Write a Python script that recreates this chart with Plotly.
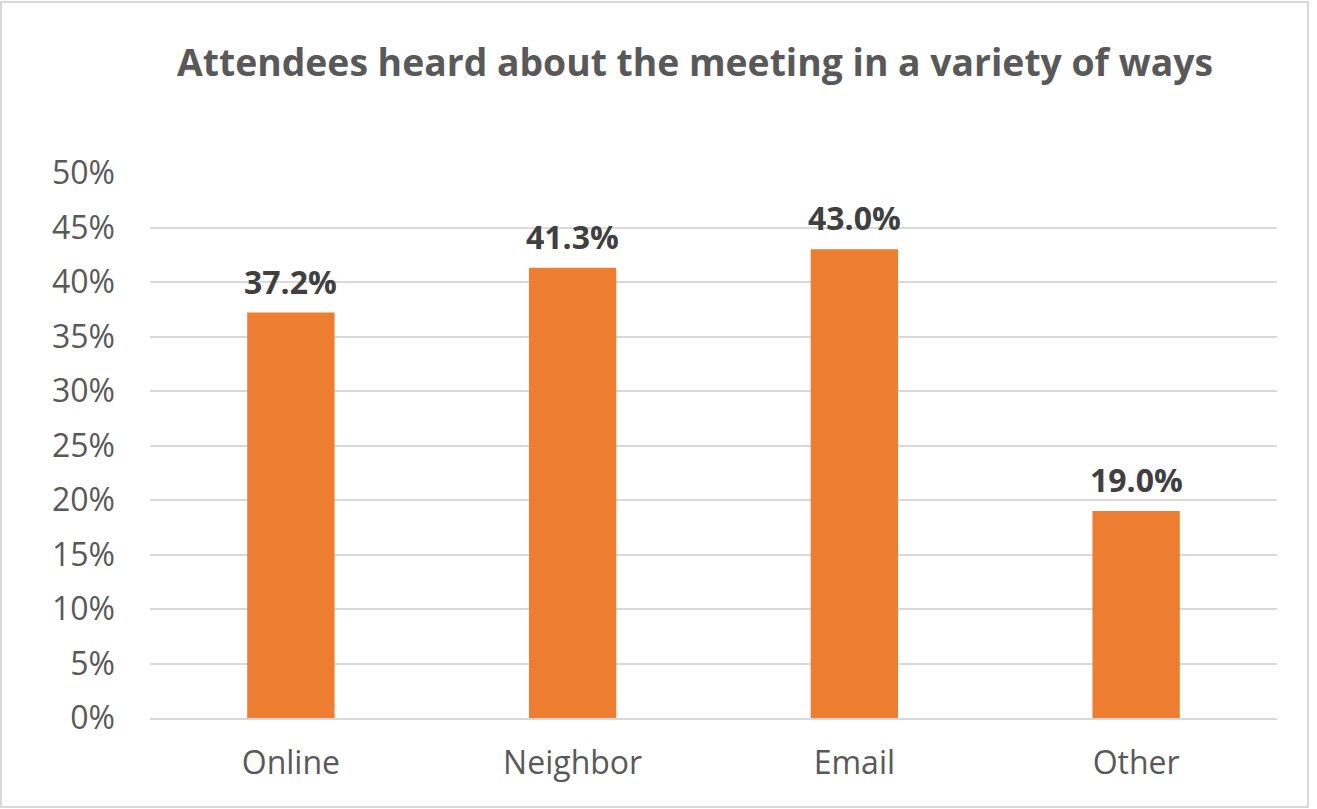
import plotly.graph_objects as go

categories = ["Online", "Neighbor", "Email", "Other"]
values = [37.2, 41.3, 43.0, 19.0]
value_labels = ["37.2%", "41.3%", "43.0%", "19.0%"]
y_ticks = [0, 5, 10, 15, 20, 25, 30, 35, 40, 45, 50]
y_tick_labels = [f"{t}%" for t in y_ticks]

W, H = 1317, 809
L, R, T, B = 150, 40, 173, 91
pw, ph = W - L - R, H - T - B

def px_x(p):
    return (p - L) / pw

def px_y(p):
    return (H - B - p) / ph

fig = go.Figure()
fig.add_trace(go.Bar(
    x=categories, y=values,
    marker=dict(color="#ED7D31", line=dict(width=0)),
    width=0.31,
    hoverinfo="skip",
))

for c, v, t in zip(categories, values, value_labels):
    fig.add_annotation(
        x=c, y=v, text=f"<b>{t}</b>", showarrow=False,
        yanchor="bottom", yshift=8,
        font=dict(family="Open Sans", size=32, color="#404040"),
    )

fig.add_shape(type="rect", xref="paper", yref="paper",
              x0=px_x(1), x1=px_x(1308), y0=px_y(807), y1=px_y(2),
              line=dict(color="#D9D9D9", width=2), fillcolor="rgba(0,0,0,0)",
              layer="below")

fig.update_layout(
    width=W, height=H,
    margin=dict(l=L, r=R, t=T, b=B, pad=0),
    paper_bgcolor="white", plot_bgcolor="white",
    showlegend=False,
    title=dict(
        text="<b>Attendees heard about the meeting in a variety of ways</b>",
        x=(695) / W, xanchor="center", y=1 - 63 / H, yanchor="middle",
        font=dict(family="Open Sans", size=37.3, color="#595959"),
    ),
    font=dict(family="Open Sans", color="#595959"),
)
fig.update_yaxes(
    range=[0, 50], tickvals=y_ticks, ticktext=y_tick_labels,
    showgrid=True, gridcolor="#D9D9D9", gridwidth=2,
    zeroline=False, showline=False, ticks="",
    ticklabelstandoff=34,
    tickfont=dict(family="Open Sans", size=32, color="#595959"),
)
fig.update_xaxes(
    showgrid=False, showline=True, linecolor="#D9D9D9", linewidth=2,
    ticks="", ticklabelstandoff=16,
    tickfont=dict(family="Open Sans", size=32, color="#595959"),
)

fig.write_html(
    "out.html",
    config={"displayModeBar": False},
    post_script="document.body.style.margin='0';document.body.style.overflow='hidden';",
)
